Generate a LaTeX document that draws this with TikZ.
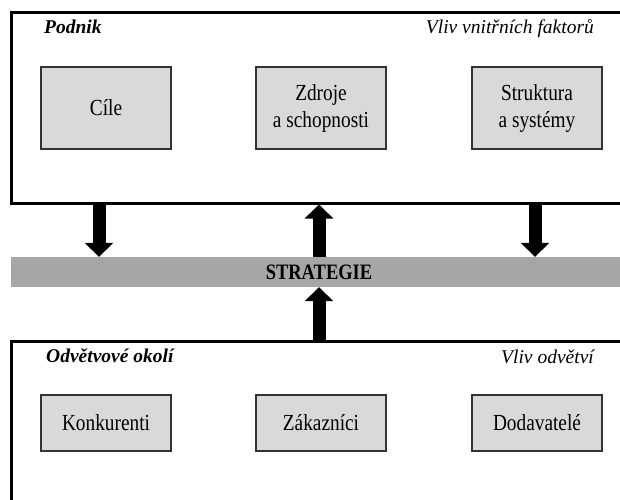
\documentclass[tikz,border=0pt]{standalone}
\usepackage{fontspec}
\setmainfont{Liberation Serif}
\newfontfamily\tallfont{Liberation Serif}[FakeStretch=0.84]
\usetikzlibrary{arrows.meta}
\definecolor{boxgray}{HTML}{D9D9D9}
\definecolor{bargray}{HTML}{A6A6A6}
\definecolor{edgegray}{HTML}{333333}
\begin{document}
\begin{tikzpicture}[x=1pt,y=-1pt,
  frame/.style={draw=black, line width=3pt, rectangle, minimum width=629pt, inner sep=0pt},
  item/.style={draw=edgegray, fill=boxgray, line width=1.4pt, minimum width=130pt, align=center, font=\tallfont\fontsize{23}{27}\selectfont, inner sep=0pt},
  head/.style={font=\fontsize{19.5}{24}\selectfont\bfseries\itshape, anchor=base west, inner sep=0pt},
  note/.style={font=\fontsize{19.5}{24}\selectfont\itshape, anchor=base east, inner sep=0pt},
  flow/.style={line width=13pt, -{Triangle[width=28pt,length=14pt]}}
]
\useasboundingbox (0,0) rectangle (620,499);
\clip (0,0) rectangle (620,499);
% frames
\node[frame, minimum height=191pt] (podnik) at (325.5,107.5) {};
\node[frame, minimum height=179pt] (okoli) at (325.5,430.5) {};
% titles
\node[head] (tp) at (44,33) {Podnik};
\node[note] (tv) at (594,33) {Vliv vnitřních faktorů};
\node[head] (bp) at (46,362) {Odvětvové okolí};
\node[note] (bv) at (594,363) {Vliv odvětví};
% inner boxes
\node[item, minimum height=82pt] (cile) at (106,108) {Cíle};
\node[item, minimum height=82pt] (zdroje) at (321,108) {Zdroje\\a schopnosti};
\node[item, minimum height=82pt] (struktura) at (537,108) {Struktura\\a systémy};
\node[item, minimum height=56pt] (konk) at (106,423) {Konkurenti};
\node[item, minimum height=56pt] (zak) at (321,423) {Zákazníci};
\node[item, minimum height=56pt] (dod) at (537,423) {Dodavatelé};
% strategy bar
\node[fill=bargray, minimum width=616pt, minimum height=30pt, inner sep=0pt,
      font=\tallfont\fontsize{22}{26}\selectfont\bfseries] (strategie) at (319,272) {STRATEGIE};
% arrow columns
\coordinate (c1) at (99,0);
\coordinate (c2) at (319,0);
\coordinate (c3) at (535,0);
\draw[flow] (podnik.south -| c1) -- (strategie.north -| c1);
\draw[flow] (strategie.north -| c2) -- (podnik.south -| c2);
\draw[flow] (podnik.south -| c3) -- (strategie.north -| c3);
\draw[flow] (okoli.north -| c2) -- (strategie.south -| c2);
\end{tikzpicture}
\end{document}
